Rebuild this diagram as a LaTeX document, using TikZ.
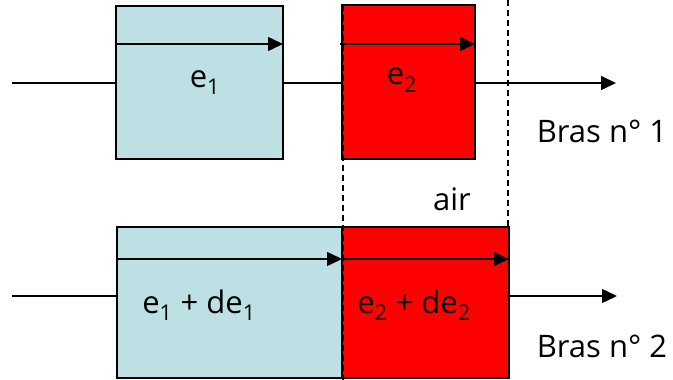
\documentclass[tikz,border=0pt]{standalone}
\usepackage{fontspec}
\setmainfont{Open Sans}
\usetikzlibrary{arrows.meta}
\definecolor{lightbox}{RGB}{188,224,227}
\definecolor{redbox}{RGB}{255,0,0}
\tikzset{
  box/.style={draw=black, line width=1.5pt, inner sep=0pt, outer sep=0pt},
  wire/.style={line width=1.5pt},
  arr/.style={line width=1.5pt, -{Triangle[length=15pt,width=14pt]}},
  dashline/.style={line width=1.2pt, dash pattern=on 6pt off 4pt},
  lbl/.style={font=\fontsize{31}{34}\selectfont, inner sep=0pt}
}
\begin{document}
\begin{tikzpicture}[x=1pt,y=-1pt]
\useasboundingbox (0,0) rectangle (673,380);
% boxes
\node[box, fill=lightbox, minimum width=167pt, minimum height=153pt] (b1) at (199.5,82.5) {};
\node[box, fill=redbox, minimum width=133pt, minimum height=154pt] (b2) at (408.5,82) {};
\node[box, fill=lightbox, minimum width=225pt, minimum height=151pt] (b3) at (229.5,302.5) {};
\node[box, fill=redbox, minimum width=167pt, minimum height=151pt] (b4) at (425.5,302.5) {};
% coordinates
\coordinate (s1) at (12,83);
\coordinate (t1) at (616,83);
\coordinate (s2) at (12,296);
\coordinate (t2) at (617,296);
\coordinate (a1) at (0,44);
\coordinate (a2) at (0,259);
\coordinate (d1a) at (343,5);
\coordinate (d1b) at (343,380);
\coordinate (d2a) at (508,0);
\coordinate (d2b) at (508,227);
\coordinate (a2s) at (340,44);
% wires
\draw[wire] (s1) -- (s1 -| b1.west);
\draw[wire] (b1.east |- s1) -- (b2.west |- s1);
\draw[arr] (b2.east |- s1) -- (t1);
\draw[wire] (s2) -- (s2 -| b3.west);
\draw[arr] (b4.east |- s2) -- (t2);
% dashed
\draw[dashline] (d1a) -- (d1b);
\draw[dashline] (d2a) -- (d2b);
% inner arrows
\draw[arr] (b1.west |- a1) -- (b1.east |- a1);
\draw[arr] (a2s) -- (b2.east |- a1);
\draw[arr] (b3.west |- a2) -- (b3.east |- a2);
\draw[arr] (b4.west |- a2) -- (b4.east |- a2);
% labels
\node[lbl] (l1) at (205,83) {e\textsubscript{1}};
\node[lbl] (l2) at (402,80) {e\textsubscript{2}};
\node[lbl] (l3) at (199,305) {e\textsubscript{1} + de\textsubscript{1}};
\node[lbl] (l4) at (414,305) {e\textsubscript{2} + de\textsubscript{2}};
\node[lbl] (air) at (452,199) {air};
\node[lbl] (br1) at (602,131) {Bras n° 1};
\node[lbl] (br2) at (602,346) {Bras n° 2};
\end{tikzpicture}
\end{document}
